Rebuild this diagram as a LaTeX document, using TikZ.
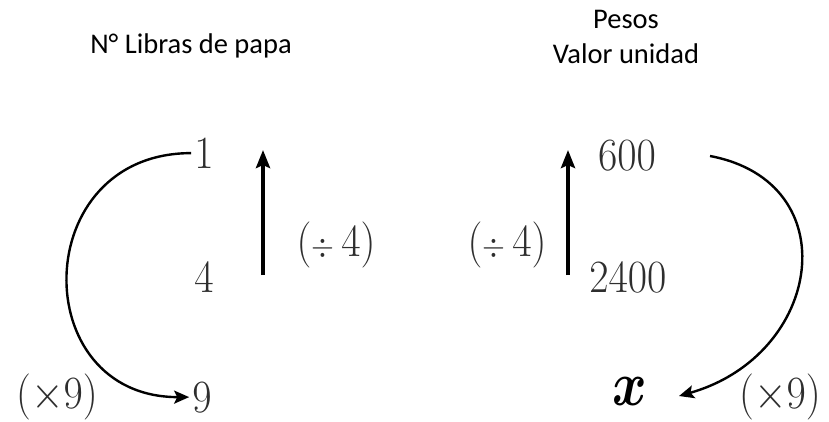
\documentclass[tikz,border=0pt]{standalone}
\usepackage{fix-cm}
\usepackage{fontspec}
\newfontfamily\hdrfont{Carlito}
\usetikzlibrary{arrows.meta}
\newcommand\tallm[1]{\scalebox{1}[1.1]{$#1$}}
\begin{document}
\begin{tikzpicture}[x=1pt,y=-1pt,
  num/.style={anchor=base, text=black!82, font=\fontsize{42}{48}\selectfont, inner sep=3pt},
  hdr/.style={anchor=base, font=\hdrfont\fontsize{28.5}{34}\selectfont, inner sep=0pt},
  curve/.style={line width=2.4pt, -{Stealth[length=15pt,width=13pt,inset=3pt]}},
  upar/.style={line width=4pt, -{Stealth[length=18pt,width=14pt,inset=3pt]}}]
\useasboundingbox (0,0) rectangle (829,421);

% headers
\node[hdr] (hl) at (191,53) {N° Libras de papa};
\node[hdr] (hr1) at (626,28) {Pesos};
\node[hdr] (hr2) at (626,63) {Valor unidad};

% left column
\node[num] (n1) at (204,168) {\tallm{1}};
\node[num] (n4) at (204,292) {\tallm{4}};
\node[num] (n9) at (202,412) {\tallm{9}};
\node[num] (lm) at (57,408) {\tallm{(\times 9)}};
\node[num] (ld) at (336,256) {\tallm{(\scalebox{0.7}{$\div$}\,4)}};

% right column
\node[num] (n600) at (627,170) {\tallm{600}};
\node[num] (n2400) at (628,292) {\tallm{2400}};
\node[num] (rd) at (507,256) {\tallm{(\scalebox{0.7}{$\div$}\,4)}};
\node[anchor=base, inner sep=3pt, font=\fontsize{42}{48}\selectfont] (nx) at (630,405) {\scalebox{1.25}[1.5]{\boldmath$x$}};
\node[num] (rm) at (780,408) {\tallm{(\times 9)}};

% arrows
\coordinate (la0) at (263,275);
\coordinate (la1) at (263,150);
\coordinate (ra0) at (568,275);
\coordinate (ra1) at (568,150);
\draw[upar] (la0) -- (la1);
\draw[upar] (ra0) -- (ra1);

\draw[curve] (n1.west) .. controls +(-163,0) and +(-163,0) .. (n9.west);

\coordinate (rs) at (710,156);
\coordinate (re) at (679,396);
\draw[curve] (rs) .. controls (848,182) and (823,355) .. (re);
\end{tikzpicture}
\end{document}
